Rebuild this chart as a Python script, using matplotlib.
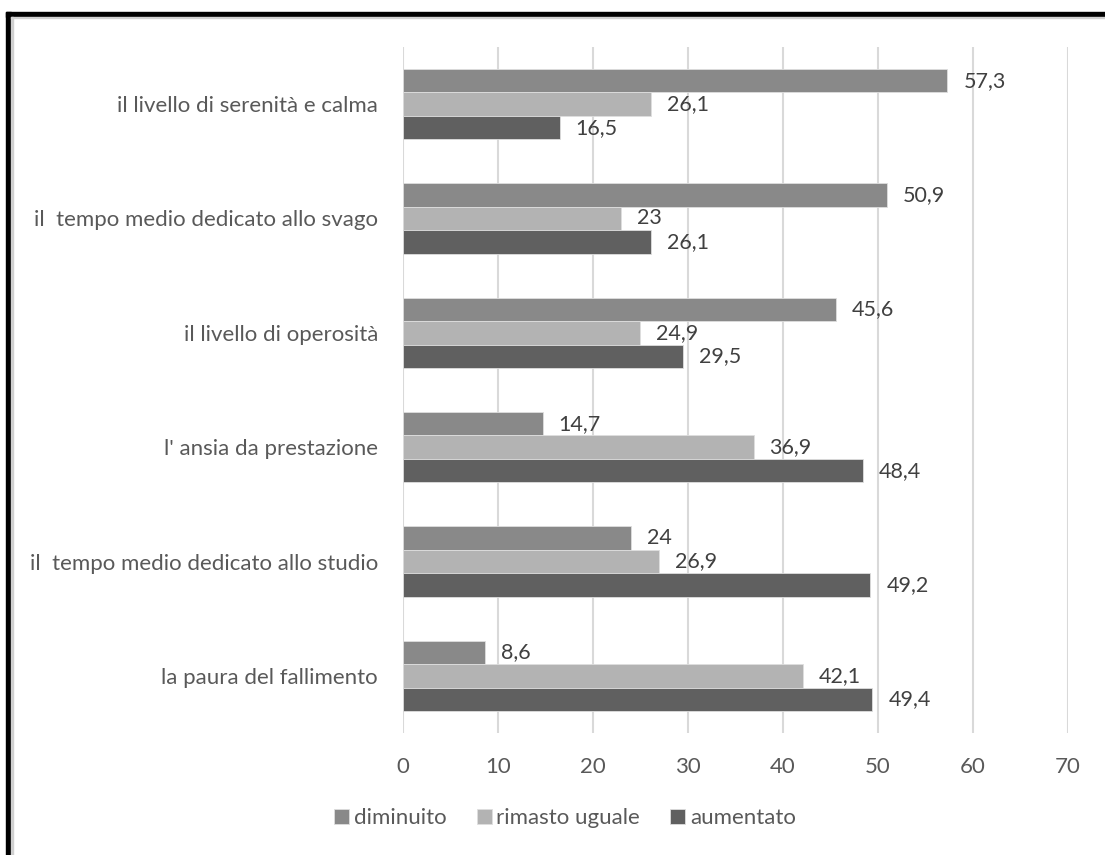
import numpy as np
import matplotlib
matplotlib.use("Agg")
import matplotlib.pyplot as plt
from matplotlib.patches import Rectangle

# data, listed top to bottom as in the chart
categories = [
    "il livello di serenità e calma",
    "il  tempo medio dedicato allo svago",
    "il livello di operosità",
    "l' ansia da prestazione",
    "il  tempo medio dedicato allo studio",
    "la paura del fallimento",
]
diminuito = [57.3, 50.9, 45.6, 14.7, 24.0, 8.6]
rimasto_uguale = [26.1, 23.0, 24.9, 36.9, 26.9, 42.1]
aumentato = [16.5, 26.1, 29.5, 48.4, 49.2, 49.4]
series_names = ["diminuito", "rimasto uguale", "aumentato"]
colors = ["#898989", "#b3b3b3", "#606060"]
x_ticks = [0, 10, 20, 30, 40, 50, 60, 70]

TXT = "#595959"
FS = 16
plt.rcParams["font.family"] = ["Lato", "DejaVu Sans"]

W, H = 1105, 855
fig = plt.figure(figsize=(W / 100, H / 100), dpi=100)
ax = fig.add_axes([403 / W, 1 - 733 / H, (1068 - 403) / W, (733 - 47) / H])

n = len(categories)
y = np.arange(n)[::-1]  # first category on top
bh = 0.206
offsets = [-bh, 0, bh]  # diminuito above, aumentato below
bars = []
for vals, name, col, off in zip([diminuito, rimasto_uguale, aumentato], series_names, colors, offsets):
    b = ax.barh(y - off, vals, height=bh, color=col, label=name, zorder=3,
                edgecolor="#dedede", linewidth=0.6)
    bars.append(b)
    for rect, v in zip(b, vals):
        txt = ("%g" % v).replace(".", ",")
        ax.annotate(txt, (rect.get_width(), rect.get_y() + rect.get_height() / 2),
                    xytext=(11.5, 0), textcoords="offset points",
                    ha="left", va="center", fontsize=15.5, color="#404040")

ax.set_xlim(0, 70)
ax.set_ylim(-0.5, n - 0.5)
ax.set_xticks(x_ticks)
ax.set_xticklabels([str(t) for t in x_ticks])
ax.set_yticks(y)
ax.set_yticklabels(categories)
ax.tick_params(axis="both", length=0, labelsize=FS, labelcolor=TXT)
ax.tick_params(axis="x", pad=17)
ax.tick_params(axis="y", pad=18)
ax.grid(axis="x", color="#d9d9d9", linewidth=1.5, zorder=0)
for s in ax.spines.values():
    s.set_visible(False)

leg = fig.legend(handles=bars, labels=series_names, loc="center", ncol=3,
                 bbox_to_anchor=(565 / W, 1 - 818 / H), frameon=False,
                 fontsize=FS, handlelength=0.68, handleheight=0.68,
                 handletextpad=0.22, columnspacing=1.35, labelcolor=TXT)

# outer frame (thick black on top and left, like the cropped chart)
fig.add_artist(Rectangle((6 / W, 0), 5 / W, (H - 12) / H, transform=fig.transFigure,
                         color="black", zorder=10))
fig.add_artist(Rectangle((6 / W, 1 - 17 / H), (W - 6) / W, 5 / H, transform=fig.transFigure,
                         color="black", zorder=10))
fig.add_artist(Rectangle((11 / W, 0), 1.5 / W, (H - 17) / H, transform=fig.transFigure,
                         color="#d0d0d0", zorder=10))
fig.add_artist(Rectangle((11 / W, 1 - 18.5 / H), (W - 11) / W, 1.5 / H, transform=fig.transFigure,
                         color="#d0d0d0", zorder=10))

fig.savefig("out.png", dpi=100)
